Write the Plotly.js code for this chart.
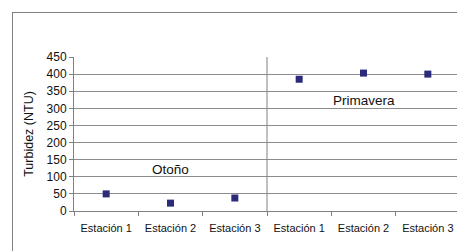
<!DOCTYPE html>
<html>
<head>
<meta charset="utf-8">
<script src="https://cdn.plot.ly/plotly-3.0.1.min.js"></script>
<style>
html,body{margin:0;padding:0;background:#fff;overflow:hidden;width:457px;height:251px;}
#frame{position:absolute;left:12px;top:12px;width:460px;height:260px;border-left:1px solid #808080;border-top:1px solid #808080;}
#chart{position:absolute;left:0;top:0;}
</style>
</head>
<body>
<div id="frame"></div>
<div id="chart"></div>
<script>
var stations = ["Estación 1","Estación 2","Estación 3","Estación 1","Estación 2","Estación 3"];
var turbidity = [50, 23, 38, 385, 403, 400];
var seasons = ["Otoño","Primavera"];
var seasonLabelPos = [[1, 120], [4, 322]];
var yTicks = [0,50,100,150,200,250,300,350,400,450];

var xIdx = stations.map(function(_, i){ return i; });

var trace = {
  x: xIdx, y: turbidity, type: 'scatter', mode: 'markers',
  marker: {symbol: 'square', size: 7, color: '#2B2B7A'},
  hoverinfo: 'skip'
};

var layout = {
  width: 462, height: 251,
  margin: {l: 74, r: 2, t: 57, b: 40},
  paper_bgcolor: 'rgba(0,0,0,0)', plot_bgcolor: 'rgba(0,0,0,0)',
  font: {family: 'Liberation Sans, Arial, sans-serif', color: '#111'},
  showlegend: false,
  xaxis: {
    range: [-0.5, 5.5], tickvals: xIdx, ticktext: stations, ticks: '',
    ticklabelstandoff: 7,
    showgrid: false, zeroline: false, showline: true, linecolor: '#808080', linewidth: 1,
    tickfont: {size: 11}, fixedrange: true,
    minor: {tick0: -0.5, dtick: 1, ticks: 'outside', ticklen: 4, tickcolor: '#808080', showgrid: false}
  },
  yaxis: {
    range: [0, 450], tickvals: yTicks, ticks: 'outside', ticklen: 4, tickcolor: '#808080',
    showgrid: true, gridcolor: '#8c8c8c', gridwidth: 1, zeroline: false,
    showline: true, linecolor: '#808080', linewidth: 1,
    tickfont: {size: 12}, fixedrange: true,
    title: {text: 'Turbidez (NTU)', font: {size: 12.5}, standoff: 10}
  },
  shapes: [{type: 'line', xref: 'x', yref: 'y', x0: 2.5, x1: 2.5, y0: 0, y1: 450,
            line: {color: '#808080', width: 1}}],
  annotations: seasons.map(function(s, i){
    return {x: seasonLabelPos[i][0], y: seasonLabelPos[i][1], xref: 'x', yref: 'y',
            text: s, showarrow: false, font: {size: 13.5, color: '#111'}};
  })
};

Plotly.newPlot('chart', [trace], layout, {displayModeBar: false, staticPlot: true});
</script>
</body>
</html>
